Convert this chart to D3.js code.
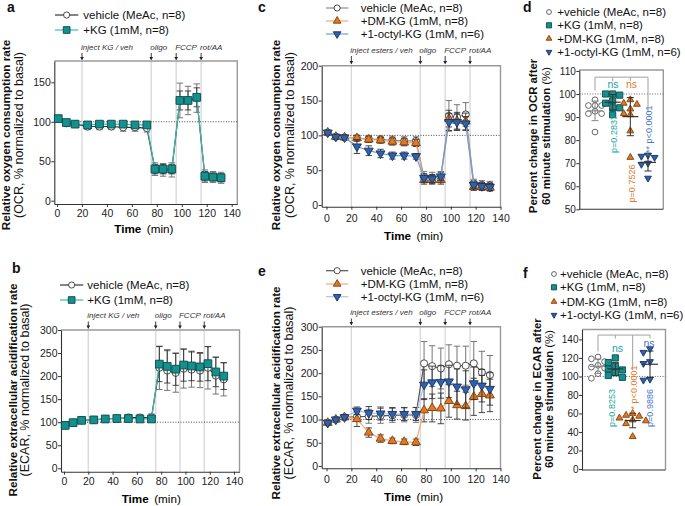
<!DOCTYPE html>
<html><head><meta charset="utf-8">
<script src="https://cdn.jsdelivr.net/npm/d3@7"></script>
<style>
body{margin:0;background:#fff;}
svg{font-family:"Liberation Sans",Arial,Helvetica,sans-serif;}
</style></head><body>
<svg id="fig" width="685" height="506"></svg>
<script>
// ---------------- DATA ----------------
const timeMin = [1,7.5,14.5,24.5,34,43.5,53,62.5,72,78.5,85,92,98.5,105,112,118.5,125,131.5];
const injectTimes = [20,75.5,95.5,115.5];
const injectLabelsKG = ["inject KG / veh","oligo","FCCP","rot/AA"];
const injectLabelsEst = ["inject esters / veh","oligo","FCCP","rot/AA"];
const xTicks = [0,20,40,60,80,100,120,140];

// panel a (OCR, KG)
const ocrVehA    = [104,98,97,94,94,94,93,93,92,40,39,39,127,127,130,31,30,29];
const ocrVehAErr = [3,3,3,4,4,4,5,5,5,8,8,9,22,18,18,8,7,7];
const ocrKgA     = [104,99,97,96,97,97,97,96,96,40,40,40,127,127,131,31,30,29];
const ocrKgAErr  = [2,2,2,3,3,3,3,3,3,6,6,6,12,12,12,6,5,5];
// panel b (ECAR, KG)
const ecarVehB    = [93,99,104,105,107,108,110,110,110,218,212,207,216,214,212,218,201,193];
const ecarVehBErr = [3,3,4,4,5,6,7,7,8,47,43,42,42,38,37,46,40,36];
const ecarKgB     = [93,99,104,105,107,108,108,107,107,226,221,215,224,222,220,227,209,200];
const ecarKgBErr  = [2,2,3,3,3,4,4,4,4,38,36,35,35,32,31,37,32,29];
// panel c (OCR, esters)
const ocrVehC    = [104,98,97,96,95,94,93,92,92,40,39,40,128,126,130,31,29,28];
const ocrVehCErr = [3,3,3,4,5,5,6,6,6,8,8,8,22,18,17,6,6,6];
const ocrDmC     = [104,98,97,96,94,93,91,90,89,36,36,36,124,121,120,26,26,25];
const ocrDmCErr  = [3,3,3,4,4,4,5,5,5,6,6,6,12,12,12,5,5,5];
const ocrOctC    = [104,98,97,84,78,74,71,71,70,39,38,41,119,119,117,29,27,26];
const ocrOctCErr = [3,3,3,10,7,6,5,5,4,6,6,6,12,12,10,5,5,5];
// panel e (ECAR, esters)
const ecarVehE    = [93,100,105,106,107,108,109,110,110,221,215,210,219,216,216,221,202,196];
const ecarVehEErr = [3,3,4,10,15,16,15,15,16,47,44,44,42,42,42,47,45,42];
const ecarDmE     = [93,100,105,101,72,59,54,52,51,120,125,124,140,131,129,149,155,152];
const ecarDmEErr  = [3,3,4,16,10,8,6,6,7,25,30,33,35,30,30,40,40,35];
const ecarOctE    = [93,100,105,119,114,113,112,112,112,175,180,181,182,171,165,178,173,166];
const ecarOctEErr = [3,3,4,8,14,14,14,14,14,32,35,35,35,38,40,35,35,35];
// panel d (OCR % change)
const groups = ["vehicle","KG","DM-KG","octyl"];
const ocrPctVeh = [97.5,95,95,95,92.5,91.5,91.5,83.5];
const ocrPctKg  = [100,99.5,100,97,96,94,94,91];
const ocrPctDm  = [97.5,96,95.5,93.5,91,91.5,84,72.5];
const ocrPctOct = [73.5,73,72.5,70,69.5,63.5];
// panel f (ECAR % change)
const ecarPctVeh = [121,119,116,112,110,109,103,98];
const ecarPctKg  = [120,115,111,108,107,104,101,99];
const ecarPctDm  = [60,58,57,55,53,52,49,35];
const ecarPctOct = [130,126,116,114,97,96];
// p-values / annotations
const pOcr  = ["p=0.2837","p=0.7526","*** p<0.0001"];
const nsOcr = ["ns","ns",""];
const pEcar = ["p=0.8253","*** p<0.0001","p=0.9886"];
const nsEcar= ["ns","","ns"];

// legends
const legKG = ["vehicle (MeAc, n=8)","+KG (1mM, n=8)"];
const legEst = ["vehicle (MeAc, n=8)","+DM-KG (1mM, n=8)","+1-octyl-KG (1mM, n=6)"];
const legPct = ["+vehicle (MeAc, n=8)","+KG (1mM, n=8)","+DM-KG (1mM, n=8)","+1-octyl-KG (1mM, n=6)"];

// ---------------- STYLE ----------------
const C = {
  teal:"#14918e", tealS:"#0b4a48", tealL:"#40b9b2", tealT:"#17a6a0",
  org:"#e3781f", orgS:"#7d3f10", orgL:"#f3a97e", orgT:"#e57a28",
  blu:"#2c63ae", bluS:"#18305e", bluLc:"#6e9ddc", bluLe:"#a8c3ea", bluT:"#4677c8",
  veh:"#3a3a3a"
};
const FS_TICK=10.5, FS_TITLE=11.7, FS_LEG=11.5, FS_ARR=8;
const svg = d3.select("#fig");

const sym = {
  circle: (s)=>d3.symbol().type(d3.symbolCircle).size(s)(),
  square: (s)=>d3.symbol().type(d3.symbolSquare).size(s)(),
  tri: (s)=>d3.symbol().type(d3.symbolTriangle).size(s)(),
};
function marker(g, kind, x, y, size, fill, stroke){
  const p = g.append("path").attr("d", sym[kind==="triDown"?"tri":kind](size))
    .attr("fill", fill).attr("stroke", stroke).attr("stroke-width",0.9);
  p.attr("transform", `translate(${x},${y})` + (kind==="triDown" ? " rotate(180)" : ""));
  return p;
}

function styleAxis(sel){
  sel.selectAll(".domain").attr("stroke","#333").attr("stroke-width",1.1);
  sel.selectAll(".tick line").attr("stroke","#333").attr("stroke-width",1);
  sel.selectAll("text").attr("font-size",FS_TICK).attr("fill","#222").attr("font-family",null);
}

function yTitle(x1, x2, cy, bold, reg){
  svg.append("text").attr("transform",`translate(${x1},${cy}) rotate(-90)`).attr("text-anchor","middle")
    .attr("font-weight","bold").attr("font-size",FS_TITLE).attr("fill","#111").text(bold);
  svg.append("text").attr("transform",`translate(${x2},${cy}) rotate(-90)`).attr("text-anchor","middle")
    .attr("font-size",12.5).attr("fill","#111").text(reg);
}

function timePanel(cfg){
  const x = d3.scaleLinear().domain(cfg.xdom).range([cfg.l, cfg.r]);
  const y = d3.scaleLinear().domain(cfg.ydom).range([cfg.b, cfg.t]);
  const g = svg.append("g");
  injectTimes.forEach((t,i)=>{
    const xx = x(t);
    g.append("line").attr("x1",xx).attr("x2",xx).attr("y1",cfg.t).attr("y2",cfg.b)
      .attr("stroke","#d9d9d9").attr("stroke-width",1.4);
    g.append("line").attr("x1",xx).attr("x2",xx).attr("y1",cfg.arrT).attr("y2",cfg.arrB-3)
      .attr("stroke","#222").attr("stroke-width",0.9);
    g.append("path").attr("d",`M${xx-1.8},${cfg.arrB-3.5}L${xx+1.8},${cfg.arrB-3.5}L${xx},${cfg.arrB}Z`).attr("fill","#222");
    g.append("text").attr("x",xx-1).attr("y",cfg.labY).attr("font-size",FS_ARR).attr("font-style","italic")
      .attr("fill","#333").text(cfg.labels[i]);
  });
  g.append("path").attr("d",`M${cfg.l},${cfg.t}H${cfg.r}V${cfg.b}`).attr("fill","none")
    .attr("stroke","#9a9a9a").attr("stroke-width",1.4);
  g.append("line").attr("x1",cfg.l).attr("x2",cfg.r).attr("y1",y(100)).attr("y2",y(100))
    .attr("stroke","#333").attr("stroke-width",0.9).attr("stroke-dasharray","1,1.6");
  const ax = g.append("g").attr("transform",`translate(0,${cfg.b})`)
    .call(d3.axisBottom(x).tickValues(xTicks).tickSize(3).tickSizeOuter(0)
      .tickPadding(cfg.xBase - cfg.b - 3 - 0.71*FS_TICK));
  styleAxis(ax);
  const ay = g.append("g").attr("transform",`translate(${cfg.l},0)`)
    .call(d3.axisLeft(y).tickValues(cfg.yticks).tickSize(3).tickSizeOuter(0).tickPadding(0.5));
  styleAxis(ay);
  cfg.series.forEach(s=>{
    const eg = g.append("g").attr("stroke",s.errC).attr("stroke-width",0.9);
    s.vals.forEach((v,i)=>{
      const xx=x(timeMin[i]), e=s.err[i];
      eg.append("line").attr("x1",xx).attr("x2",xx).attr("y1",y(v-e)).attr("y2",y(v+e));
      eg.append("line").attr("x1",xx-3.2).attr("x2",xx+3.2).attr("y1",y(v-e)).attr("y2",y(v-e));
      eg.append("line").attr("x1",xx-3.2).attr("x2",xx+3.2).attr("y1",y(v+e)).attr("y2",y(v+e));
    });
    g.append("path").datum(s.vals)
      .attr("d", d3.line().x((d,i)=>x(timeMin[i])).y(d=>y(d)))
      .attr("fill","none").attr("stroke",s.lineC).attr("stroke-width",1.2);
    s.vals.forEach((v,i)=> marker(g, s.kind, x(timeMin[i]), y(v), s.size, s.fill, s.stroke));
  });
  cfg.series.forEach((s,i)=>{
    const ly = cfg.legY[i];
    g.append("line").attr("x1",cfg.legX[0]).attr("x2",cfg.legX[1]).attr("y1",ly).attr("y2",ly)
      .attr("stroke",s.lineC).attr("stroke-width",1.2);
    marker(g, s.kind, (cfg.legX[0]+cfg.legX[1])/2, ly, s.size*0.75, s.fill, s.stroke);
    g.append("text").attr("x",cfg.legX[2]).attr("y",ly+4).attr("font-size",FS_LEG).attr("fill","#111").text(cfg.legend[i]);
  });
  g.append("text").attr("x",cfg.timeX).attr("y",cfg.timeY).attr("font-weight","bold").attr("font-size",FS_TITLE).text("Time");
  g.append("text").attr("x",cfg.timeX+32.5).attr("y",cfg.timeY).attr("font-size",FS_TITLE).text("(min)");
}

const vehSeries = (vals, err, lineC) => ({vals, err, kind:"circle", size:40, fill:"#fff", stroke:C.veh, lineC, errC:"#666"});
const kgSeries  = (vals, err) => ({vals, err, kind:"square", size:60, fill:C.teal, stroke:C.tealS, lineC:C.tealL, errC:"#333"});
const dmSeries  = (vals, err) => ({vals, err, kind:"tri", size:34, fill:C.org, stroke:C.orgS, lineC:C.orgL, errC:"#333"});
const octSeries = (vals, err, lineC) => ({vals, err, kind:"triDown", size:34, fill:C.blu, stroke:C.bluS, lineC, errC:"#333"});

timePanel({l:54.3,r:237.3,t:61,b:204,xdom:[-2.2,144.5],ydom:[-4.2,177],yticks:[0,50,100,150],
  labels:injectLabelsKG,labY:49.5,arrT:53,arrB:60.5,xBase:216.7,timeX:114.3,timeY:233,
  legX:[55,78.3,83.3],legY:[15,30],legend:legKG,
  series:[vehSeries(ocrVehA,ocrVehAErr,"#333"), kgSeries(ocrKgA,ocrKgAErr)]});
timePanel({l:61,r:239.5,t:330,b:471.7,xdom:[-2.47,144.5],ydom:[-7.4,300],yticks:[0,50,100,150,200,250,300],
  labels:injectLabelsKG,labY:318,arrT:321.5,arrB:329,xBase:485,timeX:121.7,timeY:503,
  legX:[60,83.3,87.3],legY:[285,300],legend:legKG,
  series:[vehSeries(ecarVehB,ecarVehBErr,"#333"), kgSeries(ecarKgB,ecarKgBErr)]});
timePanel({l:321.7,r:500.5,t:65.7,b:206.7,xdom:[-3.86,140],ydom:[-2.4,200],yticks:[0,50,100,150,200],
  labels:injectLabelsEst,labY:53,arrT:56,arrB:64.5,xBase:221.7,timeX:384,timeY:239.5,
  legX:[326,348.3,360.7],legY:[8,21,34],legend:legEst,
  series:[vehSeries(ocrVehC,ocrVehCErr,"#8a8a8a"), dmSeries(ocrDmC,ocrDmCErr), octSeries(ocrOctC,ocrOctCErr,C.bluLc)]});
timePanel({l:321.7,r:500.5,t:326.7,b:468.3,xdom:[-3.86,140],ydom:[-5,300],yticks:[0,50,100,150,200,250,300],
  labels:injectLabelsEst,labY:315,arrT:318.5,arrB:325.5,xBase:483.3,timeX:384,timeY:500.5,
  legX:[326,348.3,360.7],legY:[270.7,284,296.7],legend:legEst,
  series:[vehSeries(ecarVehE,ecarVehEErr,"#555"), dmSeries(ecarDmE,ecarDmEErr), octSeries(ecarOctE,ecarOctEErr,C.bluLe)]});

// ---------------- scatter panels ----------------
function swarm(vals, cx, y, d){
  const order = vals.map((v,i)=>({v,i})).sort((a,b)=>b.v-a.v);
  const placed=[], out=new Array(vals.length);
  order.forEach(o=>{
    const py=y(o.v);
    for(let k=0;k<30;k++){
      const off = k===0?0:(k%2? -Math.ceil(k/2):Math.ceil(k/2))*d*0.55;
      const px=cx+off;
      if(placed.every(p=>Math.hypot(p[0]-px,p[1]-py)>=d*0.95)){placed.push([px,py]);out[o.i]=[px,py];break;}
    }
  });
  return out;
}

const grpStyle = [
  {kind:"circle", size:26, fill:"#fff", stroke:"#555", errC:"#888", d:6},
  {kind:"square", size:38, fill:C.teal, stroke:C.tealS, errC:"#333", d:6.4},
  {kind:"tri", size:20, fill:C.org, stroke:C.orgS, errC:"#333", d:6},
  {kind:"triDown", size:20, fill:C.blu, stroke:C.bluS, errC:"#333", d:6},
];
const annotCol = [C.tealT, C.orgT, C.bluT];

function scatterPanel(cfg){
  const x = d3.scalePoint().domain(groups).range(cfg.xr);
  const y = d3.scaleLinear().domain(cfg.ydom).range([cfg.b, cfg.t]);
  const g = svg.append("g");
  g.append("path").attr("d",`M${cfg.l},${cfg.t}H${cfg.r}V${cfg.b}`).attr("fill","none")
    .attr("stroke","#9a9a9a").attr("stroke-width",1.4);
  g.append("line").attr("x1",cfg.l).attr("x2",cfg.r).attr("y1",y(100)).attr("y2",y(100))
    .attr("stroke","#555").attr("stroke-width",0.9).attr("stroke-dasharray","1,1.6");
  const ay = g.append("g").attr("transform",`translate(${cfg.l},0)`)
    .call(d3.axisLeft(y).tickValues(cfg.yticks).tickSize(3).tickSizeOuter(0).tickPadding(0.5));
  styleAxis(ay); ay.selectAll("text").attr("font-size",10);
  g.append("line").attr("x1",cfg.l).attr("x2",cfg.r).attr("y1",cfg.b).attr("y2",cfg.b).attr("stroke","#333").attr("stroke-width",1.1);
  const bg = g.append("g").attr("stroke","#a0a0a0").attr("stroke-width",1).attr("fill","none");
  bg.append("line").attr("x1",x(groups[0])).attr("x2",x(groups[3])).attr("y1",y(cfg.brY)).attr("y2",y(cfg.brY));
  groups.forEach((gr,i)=>{
    bg.append("line").attr("x1",x(gr)).attr("x2",x(gr)).attr("y1",y(cfg.brY)).attr("y2",y(cfg.brDrop[i]));
  });
  cfg.data.forEach((vals,gi)=>{
    const st = grpStyle[gi], cx = x(groups[gi]);
    const m = d3.mean(vals), sd = d3.deviation(vals);
    const pts = swarm(vals, cx, y, st.d);
    pts.forEach(p=> marker(g, st.kind, p[0], p[1], st.size, st.fill, st.stroke));
    const eg = g.append("g").attr("stroke",st.errC).attr("stroke-width",1);
    eg.append("line").attr("x1",cx).attr("x2",cx).attr("y1",y(m-sd)).attr("y2",y(m+sd));
    eg.append("line").attr("x1",cx-3.5).attr("x2",cx+3.5).attr("y1",y(m-sd)).attr("y2",y(m-sd));
    eg.append("line").attr("x1",cx-3.5).attr("x2",cx+3.5).attr("y1",y(m+sd)).attr("y2",y(m+sd));
    eg.append("line").attr("x1",cx-8).attr("x2",cx+8).attr("y1",y(m)).attr("y2",y(m)).attr("stroke-width",1.2);
  });
  cfg.ns.forEach((t,i)=>{
    if(!t) return;
    g.append("text").attr("x",cfg.nsPos[i][0]).attr("y",cfg.nsPos[i][1]).attr("text-anchor","middle")
      .attr("font-size",10.5).attr("fill",annotCol[i]).text(t);
  });
  cfg.p.forEach((t,i)=>{
    g.append("text").attr("transform",`translate(${cfg.pPos[i][0]},${cfg.pPos[i][1]}) rotate(-90)`)
      .attr("text-anchor","middle").attr("font-size",9).attr("fill",annotCol[i]).text(t);
  });
  legPct.forEach((t,i)=>{
    const st = grpStyle[i], ly = cfg.legY[i];
    marker(g, st.kind, cfg.legX[0], ly, st.size*0.7, st.fill, st.stroke);
    g.append("text").attr("x",cfg.legX[1]).attr("y",ly+4).attr("font-size",FS_LEG).attr("fill","#111").text(t);
  });
}

scatterPanel({l:579.3,r:663.3,t:70,b:209.3,ydom:[50,110.4],yticks:[50,60,70,80,90,100,110],xr:[595,648],
  data:[ocrPctVeh,ocrPctKg,ocrPctDm,ocrPctOct], brY:107.3, brDrop:[101.5,105.5,105.5,92],
  ns:nsOcr, nsPos:[[613,87.5],[631.5,87.5]], p:pOcr, pPos:[[617,134],[634.5,183.5],[652,131]],
  legX:[549,557.3], legY:[12,25.3,38.6,52]});
scatterPanel({l:582,r:665.5,t:329.5,b:470,ydom:[-1.1,150.7],yticks:[0,20,40,60,80,100,120,140],xr:[598,650],
  data:[ecarPctVeh,ecarPctKg,ecarPctDm,ecarPctOct], brY:144.7, brDrop:[127,141,107,141],
  ns:nsEcar, nsPos:[[617.5,352],null,[649,346.7]], p:pEcar, pPos:[[614.5,408],[637,391],[653,408]],
  legX:[554,560], legY:[274,287.3,301.7,315]});

yTitle(9.8,23,135,"Relative oxygen consumption rate","(OCR, % normalized to basal)");
yTitle(16.5,29,390,"Relative extracellular acidification rate","(ECAR, % normalized to basal)");
yTitle(280,293.5,135,"Relative oxygen consumption rate","(OCR, % normalized to basal)");
yTitle(280,293,393,"Relative extracellular acidification rate","(ECAR, % normalized to basal)");

function pctTitle(x1,x2,cy,l1){
  svg.append("text").attr("transform",`translate(${x1},${cy}) rotate(-90)`).attr("text-anchor","middle")
    .attr("font-weight","bold").attr("font-size",11.4).attr("fill","#111").text(l1);
  const t = svg.append("text").attr("transform",`translate(${x2},${cy}) rotate(-90)`).attr("text-anchor","middle")
    .attr("font-size",11.4).attr("fill","#111");
  t.append("tspan").attr("font-weight","bold").text("60 minute stimulation ");
  t.append("tspan").text("(%)");
}
pctTitle(537,549.5,136,"Percent change in OCR after");
pctTitle(541,553,399,"Percent change in ECAR after");

const panelLabels = [["a",7,12],["b",12,273.3],["c",258,12],["d",523,12],["e",258,276],["f",523,278]];
panelLabels.forEach(p=> svg.append("text").attr("x",p[1]).attr("y",p[2]).attr("font-weight","bold")
  .attr("font-size",14).attr("fill","#111").text(p[0]));
</script></body></html>
